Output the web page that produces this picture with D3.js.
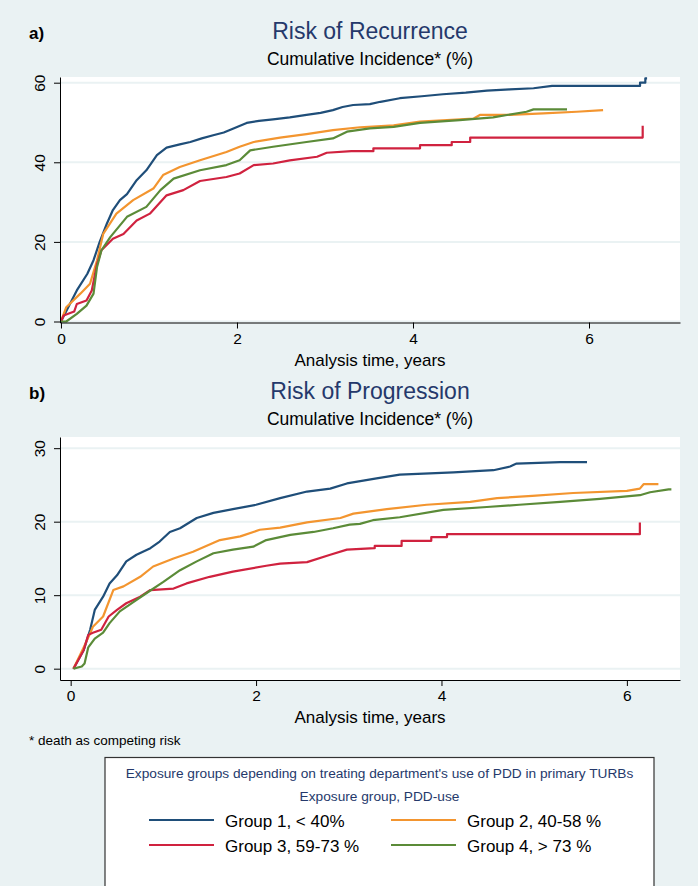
<!DOCTYPE html>
<html>
<head>
<meta charset="utf-8">
<script src="https://cdn.jsdelivr.net/npm/d3@7"></script>
<style>
  body { margin: 0; background: #eaf2f3; }
  svg { display: block; font-family: "Liberation Sans", Arial, sans-serif; }
</style>
</head>
<body>
<div id="chart"></div>
<script>
// groups and colours
var groups = ["Group 1, < 40%", "Group 2, 40-58 %", "Group 3, 59-73 %", "Group 4, > 73 %"];
var colors = ["#1f4e79", "#f3952f", "#d0223f", "#5b8b38"];

// a) recurrence, [years, cumulative incidence %]
var rec_g1 = [[0,0],[0.18,7.8],[0.3,12],[0.37,15.4],[0.44,20],[0.52,24.5],[0.59,28],[0.67,30.5],[0.75,32],[0.86,35.5],[0.97,38],[1.09,41.8],[1.2,43.7],[1.35,44.5],[1.47,45.1],[1.6,46],[1.73,46.8],[1.85,47.5],[1.96,48.5],[2.11,49.9],[2.25,50.4],[2.41,50.8],[2.6,51.3],[2.79,51.9],[2.95,52.4],[3.09,53.1],[3.2,53.9],[3.32,54.4],[3.51,54.6],[3.63,55.2],[3.85,56.1],[4.1,56.6],[4.34,57.1],[4.6,57.5],[4.84,58.0],[5.1,58.3],[5.37,58.6],[5.58,59.2],[6.58,59.2],[6.58,60.0],[6.64,60.0],[6.64,61.1],[6.66,61.1]];
var rec_g2 = [[0,0],[0.06,3.6],[0.22,7],[0.33,9.5],[0.41,15.4],[0.48,22],[0.63,27.1],[0.82,30.5],[1.05,33.4],[1.16,36.8],[1.35,38.8],[1.58,40.5],[1.88,42.6],[2.03,43.9],[2.19,45.1],[2.49,46.2],[2.79,47.1],[3.09,48.1],[3.4,48.8],[3.78,49.3],[4.08,50.2],[4.69,51],[4.76,51.9],[5.1,51.9],[5.48,52.3],[5.86,52.7],[6.16,53.1]];
var rec_g3 = [[0,0],[0.03,1.5],[0.15,2.5],[0.18,4.4],[0.29,5.3],[0.35,7.8],[0.41,14.5],[0.46,17.9],[0.59,20.8],[0.71,22],[0.86,25.4],[1.01,27.1],[1.2,31.7],[1.39,33],[1.58,35.3],[1.88,36.3],[2.03,37.2],[2.19,39.3],[2.41,39.7],[2.6,40.5],[2.91,41.4],[3.02,42.4],[3.3,42.8],[3.55,42.8],[3.55,43.5],[4.08,43.5],[4.08,44.3],[4.44,44.3],[4.44,45.1],[4.65,45.1],[4.65,46.2],[6.61,46.2],[6.61,49.2]];
var rec_g4 = [[0,0],[0.06,0],[0.18,1.9],[0.29,4],[0.37,7],[0.41,13.7],[0.46,17.9],[0.56,21.2],[0.75,26.3],[0.97,28.8],[1.13,33],[1.28,35.9],[1.58,38],[1.88,39.3],[2.03,40.5],[2.15,43],[2.41,43.9],[2.79,45.1],[3.09,46],[3.25,47.7],[3.51,48.5],[3.78,48.9],[4.08,49.9],[4.53,50.6],[4.91,51.3],[5.29,52.7],[5.37,53.3],[5.75,53.3]];

// b) progression
var prog_g1 = [[0.03,0],[0.14,2.5],[0.21,5.3],[0.26,8],[0.35,9.8],[0.42,11.6],[0.5,12.7],[0.6,14.6],[0.71,15.5],[0.86,16.4],[0.96,17.3],[1.07,18.6],[1.18,19.1],[1.36,20.5],[1.54,21.2],[1.75,21.7],[2.0,22.3],[2.26,23.2],[2.55,24.1],[2.8,24.5],[2.98,25.2],[3.3,25.9],[3.55,26.4],[4.13,26.7],[4.56,27.0],[4.74,27.5],[4.81,27.9],[5.28,28.1],[5.57,28.1]];
var prog_g2 = [[0.03,0],[0.14,2.9],[0.21,4.8],[0.24,5.7],[0.35,7.1],[0.46,10.7],[0.57,11.2],[0.75,12.5],[0.89,13.9],[1.11,15],[1.32,15.9],[1.61,17.5],[1.83,18],[2.04,18.9],[2.26,19.2],[2.55,19.9],[2.91,20.5],[3.05,21.1],[3.41,21.7],[3.84,22.3],[4.31,22.7],[4.6,23.2],[4.98,23.5],[5.42,23.9],[6.0,24.2],[6.14,24.5],[6.18,25.1],[6.34,25.1]];
var prog_g3 = [[0.03,0],[0.14,2.5],[0.19,4.6],[0.24,4.9],[0.33,5.3],[0.41,7.1],[0.5,8],[0.6,8.9],[0.75,9.8],[0.86,10.7],[1.11,10.9],[1.25,11.6],[1.5,12.5],[1.75,13.2],[2.11,14],[2.26,14.3],[2.55,14.5],[2.8,15.5],[2.98,16.2],[3.28,16.4],[3.28,16.7],[3.57,16.7],[3.57,17.4],[3.89,17.4],[3.89,17.9],[4.06,17.9],[4.06,18.3],[6.14,18.3],[6.14,19.9]];
var prog_g4 = [[0.03,0],[0.12,0.3],[0.15,0.7],[0.19,2.9],[0.26,4.1],[0.35,4.9],[0.42,6.2],[0.53,7.8],[0.68,9.1],[0.82,10.3],[1.0,11.8],[1.18,13.4],[1.36,14.6],[1.54,15.7],[1.75,16.2],[1.97,16.6],[2.11,17.5],[2.37,18.2],[2.62,18.6],[2.83,19.1],[3.01,19.6],[3.12,19.7],[3.26,20.2],[3.55,20.6],[4.02,21.6],[4.49,22.0],[4.84,22.3],[5.28,22.7],[5.71,23.1],[6.14,23.6],[6.25,24.0],[6.45,24.4],[6.48,24.4]];

// ticks
var xTicks = [0, 2, 4, 6];
var recTicks = [0, 20, 40, 60];
var progTicks = [0, 10, 20, 30];

var W = 698, H = 886;
var bg = "#eaf2f3", navy = "#25396b";

var svg = d3.select("#chart").append("svg")
  .attr("width", W).attr("height", H);

svg.append("rect").attr("width", W).attr("height", H).attr("fill", bg);

function drawPanel(p) {
  var x = d3.scaleLinear().domain(p.xdom).range([60, 680]);
  var y = d3.scaleLinear().domain(p.ydom).range([p.bottom, p.top]);

  // labels
  svg.append("text").attr("x", 29).attr("y", p.top - 38)
    .style("font-size", "17px").style("font-weight", "bold").text(p.letter);
  svg.append("text").attr("x", 370).attr("y", p.top - 38)
    .attr("text-anchor", "middle").attr("fill", navy)
    .style("font-size", "23px").text(p.title);
  svg.append("text").attr("x", 370).attr("y", p.top - 12)
    .attr("text-anchor", "middle")
    .style("font-size", "17.5px").text("Cumulative Incidence* (%)");

  // plot region
  svg.append("rect").attr("x", 60).attr("y", p.top)
    .attr("width", 620).attr("height", p.bottom - p.top).attr("fill", "#fff");

  // grid
  svg.append("g").selectAll("line").data(p.yticks).enter().append("line")
    .attr("x1", 60).attr("x2", 680)
    .attr("y1", function(d) { return y(d); })
    .attr("y2", function(d) { return y(d); })
    .attr("stroke", bg).attr("stroke-width", 2);

  // curves
  var line = d3.line()
    .x(function(d) { return x(d[0]); })
    .y(function(d) { return y(d[1]); });

  p.series.forEach(function(s, i) {
    svg.append("path").datum(s)
      .attr("d", line)
      .attr("fill", "none")
      .attr("stroke", colors[i])
      .attr("stroke-width", 2.2)
      .attr("stroke-linejoin", "round");
  });

  // y axis, vertical tick labels
  var ya = svg.append("g").attr("transform", "translate(60,0)")
    .call(d3.axisLeft(y).tickValues(p.yticks).tickFormat(d3.format("d")).tickSize(6).tickSizeOuter(0));
  ya.selectAll("text")
    .attr("transform", "rotate(-90)")
    .attr("x", 0).attr("y", -15).attr("dy", 0)
    .style("text-anchor", "middle")
    .style("font-size", "15.5px")
    .style("font-family", "Liberation Sans, Arial, sans-serif");

  // x axis
  var xa = svg.append("g").attr("transform", "translate(0," + p.bottom + ")")
    .call(d3.axisBottom(x).tickValues(xTicks).tickFormat(d3.format("d")).tickSize(6).tickSizeOuter(0));
  xa.selectAll("text")
    .attr("y", 10)
    .style("font-size", "15.5px")
    .style("font-family", "Liberation Sans, Arial, sans-serif");
  svg.selectAll(".domain, .tick line").attr("stroke", "#000");

  svg.append("text").attr("x", 370).attr("y", p.bottom + 43)
    .attr("text-anchor", "middle")
    .style("font-size", "17px").text("Analysis time, years");
}

drawPanel({
  letter: "a)", title: "Risk of Recurrence",
  top: 77, bottom: 322.5,
  xdom: [-0.011, 7.034], ydom: [-0.25, 61.43],
  yticks: recTicks,
  series: [rec_g1, rec_g2, rec_g3, rec_g4]
});

drawPanel({
  letter: "b)", title: "Risk of Progression",
  top: 437, bottom: 680,
  xdom: [-0.115, 6.573], ydom: [-1.54, 31.52],
  yticks: progTicks,
  series: [prog_g1, prog_g2, prog_g3, prog_g4]
});

// footnote
svg.append("text").attr("x", 29).attr("y", 745)
  .style("font-size", "13.5px").text("* death as competing risk");

// legend
svg.append("rect").attr("x", 105).attr("y", 757.5)
  .attr("width", 549).attr("height", 150)
  .attr("fill", "#fff").attr("stroke", "#333").attr("stroke-width", 1.2);

svg.append("text").attr("x", 379.5).attr("y", 778)
  .attr("text-anchor", "middle").attr("fill", navy)
  .style("font-size", "13.7px")
  .text("Exposure groups depending on treating department's use of PDD in primary TURBs");
svg.append("text").attr("x", 379.5).attr("y", 801)
  .attr("text-anchor", "middle").attr("fill", navy)
  .style("font-size", "13.7px").text("Exposure group, PDD-use");

var leg = svg.append("g").selectAll("g").data(groups).enter().append("g")
  .attr("transform", function(d, i) {
    return "translate(" + (i % 2 ? 391 : 149) + "," + (i < 2 ? 820 : 845) + ")";
  });
leg.append("line").attr("x1", 0).attr("x2", 65)
  .attr("stroke", function(d, i) { return colors[i]; })
  .attr("stroke-width", 2.2);
leg.append("text").attr("x", 76).attr("y", 6.5)
  .style("font-size", "17px")
  .text(function(d) { return d; });
</script>
</body>
</html>
